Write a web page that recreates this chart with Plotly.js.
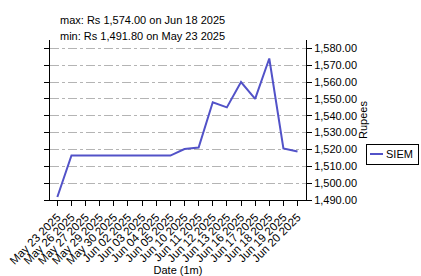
<!DOCTYPE html>
<html>
<head>
<meta charset="utf-8">
<script src="https://cdn.plot.ly/plotly-3.0.1.min.js"></script>
<style>html,body{margin:0;padding:0;background:#fff;}#chart{width:421px;height:276px;}</style>
</head>
<body>
<div id="chart"></div>
<script>
const dates = ["May 23 2025","May 26 2025","May 27 2025","May 29 2025","May 30 2025","Jun 02 2025","Jun 03 2025","Jun 04 2025","Jun 05 2025","Jun 10 2025","Jun 11 2025","Jun 12 2025","Jun 13 2025","Jun 16 2025","Jun 17 2025","Jun 18 2025","Jun 19 2025","Jun 20 2025"];
const prices = [1491.80,1516.4,1516.4,1516.4,1516.4,1516.4,1516.4,1516.4,1516.4,1520.3,1521.1,1548.0,1545.0,1560.0,1550.0,1574.00,1520.6,1518.8];
const yTicks = [1490,1500,1510,1520,1530,1540,1550,1560,1570,1580];
const seriesName = "SIEM";
const maxText = "max: Rs 1,574.00 on Jun 18 2025";
const minText = "min: Rs 1,491.80 on May 23 2025";

const font = {family: "Liberation Sans, Arial, sans-serif", size: 11, color: "#000"};

Plotly.newPlot("chart", [{
  x: dates, y: prices, type: "scatter", mode: "lines", name: seriesName,
  line: {color: "#5252c8", width: 2}
}], {
  width: 421, height: 276,
  margin: {l: 50, r: 115, t: 40, b: 76, pad: 0, autoexpand: false},
  paper_bgcolor: "#fff", plot_bgcolor: "#fff",
  font: font,
  showlegend: true,
  legend: {x: 1.234, y: 0.2875, xanchor: "left", yanchor: "middle", bordercolor: "#000", borderwidth: 1, font: font, bgcolor: "#fff"},
  xaxis: {
    type: "category", range: [-0.52, 17.6], showgrid: false,
    tickmode: "array", tickvals: dates, ticktext: dates,
    showline: true, linecolor: "#000", linewidth: 1,
    ticks: "outside", ticklen: 5, tickcolor: "#000", tickangle: -45,
    tickfont: {family: font.family, size: 11.5, color: "#000"}, zeroline: false,
    title: {text: "Date (1m)", font: font, standoff: 1}
  },
  yaxis: {
    side: "right", range: [1490, 1585], tickvals: yTicks, tickformat: ",.2f",
    showline: true, linecolor: "#000", linewidth: 1, mirror: "ticks",
    ticks: "outside", ticklen: 5, tickcolor: "#000",
    showgrid: true, gridcolor: "#b4b4b4", gridwidth: 1, griddash: "dashdot",
    zeroline: false, tickfont: font,
    title: {text: "Rupees", font: font, standoff: 0}
  },
  annotations: [
    {xref: "paper", yref: "paper", x: 0.031, y: 1.125, xanchor: "left", yanchor: "middle", text: maxText, showarrow: false, font: font},
    {xref: "paper", yref: "paper", x: 0.031, y: 1.025, xanchor: "left", yanchor: "middle", text: minText, showarrow: false, font: font}
  ]
}, {staticPlot: true, displayModeBar: false}).then(function (gd) {
  // compact legend sample like the reference
  const leg = gd.querySelector("g.legend");
  if (!leg) return;
  leg.querySelectorAll("path.js-line").forEach(p => p.setAttribute("d", "M3,0h13"));
  leg.querySelectorAll("text.legendtext").forEach(t => t.setAttribute("x", "19"));
  const bg = leg.querySelector("rect.bg");
  if (bg) { bg.setAttribute("width", "52"); bg.setAttribute("height", "20"); }
  const tr = leg.querySelector("g.traces");
  if (tr) tr.setAttribute("transform", "translate(1,10)");
  const sb = leg.querySelector("g.scrollbox");
  if (sb) sb.setAttribute("transform", "translate(0,0)");
  leg.setAttribute("transform", "translate(366,144)");
});
</script>
</body>
</html>
